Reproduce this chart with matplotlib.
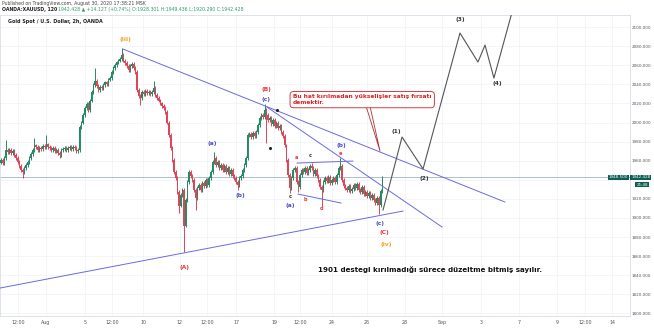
import numpy as np
import matplotlib
matplotlib.use("Agg")
import matplotlib.pyplot as plt

# 2h closes, XAUUSD, end of July -> end of August
closes = [
    1960.7, 1957.5, 1962.8, 1971.2, 1969.0, 1971.0, 1968.0, 1970.0, 1966.0, 1963.0,
    1958.6, 1954.5, 1950.0, 1948.0, 1952.0, 1955.5, 1958.6, 1962.8, 1967.0, 1971.0,
    1976.0, 1974.0, 1971.0, 1973.0, 1972.0, 1975.0, 1974.0, 1977.0, 1974.0, 1973.0,
    1971.0, 1973.0, 1970.0, 1971.0, 1968.0, 1966.0, 1971.0, 1972.0, 1973.0, 1971.0,
    1973.0, 1974.0, 1972.0, 1974.0, 1973.0, 1970.0, 1971.0, 1995.0, 2000.0, 2008.0,
    2015.0, 2019.0, 2013.0, 2023.0, 2032.0, 2039.0, 2044.0, 2038.0, 2034.0, 2037.0,
    2036.0, 2039.0, 2042.0, 2040.0, 2045.0, 2047.0, 2053.0, 2057.0, 2060.0, 2063.0,
    2065.0, 2067.0, 2071.0, 2065.0, 2062.0, 2059.0, 2055.0, 2059.0, 2061.0, 2057.0,
    2053.0, 2034.0, 2028.0, 2026.0, 2032.0, 2030.0, 2033.0, 2031.0, 2032.0, 2030.0,
    2032.0, 2036.0, 2029.0, 2026.0, 2023.0, 2020.0, 2017.0, 2015.0, 2011.0, 2000.0,
    1987.0, 1973.0, 1961.0, 1948.0, 1942.0, 1927.0, 1913.0, 1924.0, 1929.0, 1892.0,
    1919.0, 1937.6, 1948.0, 1944.0, 1940.0, 1929.0, 1921.0, 1931.0, 1934.5, 1929.0,
    1936.6, 1933.0, 1940.0, 1934.5, 1941.8, 1948.0, 1958.6, 1963.0, 1955.5, 1958.6,
    1952.0, 1955.5, 1950.0, 1954.5, 1948.0, 1952.0, 1946.0, 1950.0, 1944.0, 1942.0,
    1937.6, 1934.5, 1941.8, 1944.0, 1950.0, 1955.5, 1962.8, 1987.0, 1988.0, 1985.0,
    1989.0, 1986.0, 1990.0, 1997.0, 2005.0, 2008.0, 2006.0, 2013.0, 2008.0, 2003.0,
    2005.0, 1998.0, 2003.0, 1996.0, 2000.0, 1994.0, 1996.0, 1990.0, 1986.0, 1976.0,
    1960.7, 1945.0, 1931.0, 1941.8, 1950.0, 1952.0, 1937.6, 1932.0, 1945.0, 1950.0,
    1948.0, 1952.0, 1947.0, 1950.0, 1954.5, 1952.0, 1946.0, 1950.0, 1944.0, 1940.0,
    1932.0, 1929.0, 1937.6, 1941.8, 1938.7, 1943.0, 1936.6, 1939.7, 1941.8, 1937.6,
    1945.0, 1952.0, 1954.5, 1939.7, 1933.5, 1931.0, 1929.0, 1933.5, 1928.0, 1930.0,
    1934.5, 1931.0, 1935.5, 1929.0, 1927.0, 1932.0, 1925.0, 1927.0, 1923.0, 1926.0,
    1921.0, 1924.0, 1919.0, 1915.6, 1921.0, 1913.5, 1928.3, 1942.428,
]
first_open = 1958.0
# bars with long shadows (bar index -> extreme)
spike_highs = {3: 1981.7, 20: 1984.0, 27: 1987.0, 56: 2057.0, 72: 2078.0, 91: 2044.0,
               127: 1969.0, 157: 2019.0, 185: 1957.5, 202: 1962.8}
spike_lows = {13: 1942.0, 35: 1963.0, 83: 2018.0, 106: 1905.0, 109: 1864.0, 116: 1908.0,
              141: 1929.0, 158: 1978.5, 172: 1926.0, 177: 1927.0, 191: 1912.0, 225: 1904.0}
last_price = 1942.428

# drawn lines: (bar, price) pairs
line_top = [(72.7, 2077.0), (300.0, 1916.7)]
line_mid = [(158.4, 2016.2), (262.6, 1890.5)]
line_support = [(-0.5, 1826.5), (239.4, 1907.2)]
tri_upper = [(176.3, 1957.5), (209.6, 1959.6)]
tri_lower = [(176.9, 1925.0), (202.5, 1915.6)]
projection = [(227.5, 1908.3), (238.8, 1984.8), (251.3, 1951.3), (273.3, 2093.8),
              (284.0, 2063.4), (288.2, 2081.2), (293.5, 2046.6), (304.3, 2115.8)]

# wave labels: text, bar, price, colour
RED, BLUE, ORANGE, DARK = "#e53935", "#4b4bc8", "#f0a020", "#333333"
wave_labels = [
    ("(iii)", 73.9, 2087.5, ORANGE), ("(B)", 157.8, 2035.0, RED), ("(c)", 157.8, 2024.6, BLUE),
    ("(A)", 109.6, 1848.5, RED), ("(a)", 125.7, 1978.5, BLUE), ("(b)", 142.4, 1923.0, BLUE),
    ("a", 175.7, 1963.8, RED), ("c", 184.0, 1965.0, DARK), ("(b)", 202.5, 1975.4, BLUE),
    ("e", 201.9, 1968.0, RED), ("c", 172.1, 1922.0, DARK), ("(a)", 172.1, 1912.5, BLUE),
    ("b", 181.0, 1918.8, RED), ("d", 191.2, 1910.4, RED), ("(c)", 225.7, 1894.6, BLUE),
    ("(C)", 228.1, 1884.2, RED), ("(iv)", 229.3, 1872.6, ORANGE),
    ("(1)", 235.2, 1991.0, DARK), ("(2)", 251.9, 1941.8, DARK),
    ("(3)", 273.3, 2107.5, DARK), ("(4)", 295.3, 2040.4, DARK),
]
dots = [(160.2, 1973.3), (164.4, 2013.1)]

xtick_pos = [10.2, 26.9, 50.1, 66.2, 84.6, 106.6, 122.7, 140.0, 162.6, 178.1,
             197.1, 218.0, 240.6, 262.6, 285.8, 308.4, 331.1, 347.7, 363.8]
xtick_lab = ["12:00", "Aug", "5", "12:00", "10", "12", "12:00", "17", "19", "12:00",
             "24", "26", "28", "Sep", "3", "7", "9", "12:00", "14"]
ytick_pos = list(range(1800, 2101, 20))

UP, DOWN = "#238a63", "#e04456"

c = np.array(closes)
o = np.concatenate([[first_open], c[:-1]])
idx = np.arange(len(c))
hi = np.maximum(o, c) + 2.0
lo = np.minimum(o, c) - 2.0
for k, v in spike_highs.items():
    hi[k] = v
for k, v in spike_lows.items():
    lo[k] = v
col = np.where(c >= o, UP, DOWN)

fig = plt.figure(figsize=(6.54, 3.28), dpi=100)
ax = fig.add_axes([0.0, 12 / 328, 630 / 654, 301 / 328])
ax.set_xlim(-0.5, 374.5)
ax.set_ylim(1797.2, 2112.7)

ax.vlines(idx, lo, hi, colors=col, lw=0.7, zorder=3)
ax.bar(idx, np.maximum(np.abs(c - o), 0.8), bottom=np.minimum(o, c), width=0.8,
       color=col, lw=0, zorder=3)
ax.axhline(last_price, color="#9ab8bd", lw=0.6, zorder=2)

for ln in (line_top, line_mid, line_support, tri_upper, tri_lower):
    xs, ys = zip(*ln)
    ax.plot(xs, ys, color="#6a6ae0", lw=0.7, zorder=4)
px, py = zip(*projection)
ax.plot(px, py, color="#555555", lw=0.8, zorder=4)
dx, dy = zip(*dots)
ax.scatter(dx, dy, s=1.5, color="#222222", zorder=5)

for t, x, y, cc in wave_labels:
    ax.text(x, y, t, color=cc, fontsize=3.6 if len(t) < 3 else 4.2, ha="center", va="center",
            fontweight="bold", zorder=6)

# callout box with tail pointing at the upper line
ax.plot([215.0, 225.7, 218.0], [2030.8, 1970.1, 2030.8], color="#b03030", lw=0.6, zorder=6)
ax.text(173.9, 2024.0, "Bu hat kırılmadan yükselişler satış fırsatı\ndemektir.", color="#e02020",
        fontsize=4.2, fontweight="bold", ha="left", va="center", linespacing=1.1, zorder=7,
        bbox=dict(boxstyle="round,pad=0.5,rounding_size=0.6", fc="white", ec="#d04040", lw=0.7))
ax.text(188.8, 1846.4, "1901 destegi kırılmadığı sürece düzeltme bitmiş sayılır.",
        color="#111111", fontsize=5.1, fontweight="bold", ha="left", va="center", zorder=6)

ax.set_xticks(xtick_pos)
ax.set_xticklabels(xtick_lab)
ax.set_yticks(ytick_pos)
ax.set_yticklabels(["" if v == 1940 else "%d.000" % v for v in ytick_pos])
ax.yaxis.tick_right()
ax.tick_params(axis="x", length=0, labelsize=3.4, colors="#555555", pad=3)
ax.tick_params(axis="y", length=0, labelsize=3.0, colors="#555555", pad=1.5)
ax.grid(color="#eef1f5", lw=0.5, zorder=0)
for s in ax.spines.values():
    s.set_color("#d8dde6")
    s.set_linewidth(0.6)

# last price tags
tag = dict(boxstyle="square,pad=0.2", fc="#0e5e53", ec="none")
ax.text(1.002, last_price, "1942.428", transform=ax.get_yaxis_transform(), fontsize=3.0,
        color="white", va="center", ha="left", zorder=8, bbox=tag)
ax.text(1.01, last_price - 7.5, "21:48", transform=ax.get_yaxis_transform(), fontsize=3.0,
        color="white", va="center", ha="left", zorder=8, bbox=tag)
ax.text(0.997, last_price, "1948.500", transform=ax.get_yaxis_transform(), fontsize=3.0,
        color="white", va="center", ha="right", zorder=8, bbox=tag)

fig.text(2 / 654, 1 - 4 / 328, "Published on TradingView.com, August 30, 2020 17:38:21 MSK",
         fontsize=3.3, color="#444444", va="center")
fig.text(2 / 654, 1 - 10 / 328, "OANDA:XAUUSD, 120", fontsize=3.3, color="#222222",
         fontweight="bold", va="center")
fig.text(58 / 654, 1 - 10 / 328,
         "1942.428 \u25b2 +14.127 (+0.74%) O:1928.301 H:1949.436 L:1920.290 C:1942.428",
         fontsize=3.3, color="#2e9c6a", va="center")
fig.text(8 / 654, 1 - 22 / 328, "Gold Spot / U.S. Dollar, 2h, OANDA", fontsize=3.5,
         color="#222222", fontweight="bold", va="center")

fig.savefig("out.png", dpi=100, facecolor="white")
